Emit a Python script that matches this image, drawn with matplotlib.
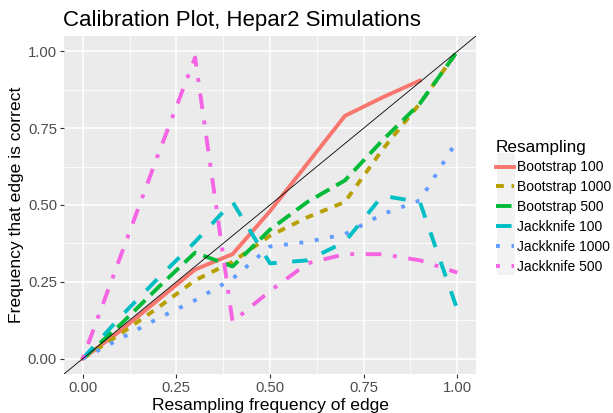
import matplotlib
matplotlib.use("Agg")
import matplotlib.pyplot as plt
from matplotlib.patches import Rectangle
import numpy as np

plt.rcParams['font.family'] = ['Liberation Sans', 'DejaVu Sans']

# values
freq = [0.0, 0.1, 0.2, 0.3, 0.4, 0.5, 0.6, 0.7, 0.8, 0.9, 1.0]
boot100 = [0.0, 0.09, 0.19, 0.29, 0.34, 0.48, 0.635, 0.79, 0.85, 0.905]
boot1000 = [0.0, 0.08, 0.165, 0.255, 0.315, 0.40, 0.46, 0.51, 0.68, 0.83, 1.0]
boot500 = [0.0, 0.11, 0.23, 0.345, 0.30, 0.42, 0.51, 0.58, 0.71, 0.83, 1.0]
jack100 = [0.0, 0.135, 0.26, 0.38, 0.51, 0.31, 0.32, 0.38, 0.53, 0.51, 0.16]
jack1000 = [0.0, 0.065, 0.13, 0.19, 0.26, 0.365, 0.38, 0.405, 0.47, 0.515, 0.71]
jack500 = [0.0, 0.33, 0.66, 0.98, 0.12, 0.22, 0.31, 0.34, 0.34, 0.32, 0.28]

labels = ["Bootstrap 100", "Bootstrap 1000", "Bootstrap 500",
          "Jackknife 100", "Jackknife 1000", "Jackknife 500"]
series = [boot100, boot1000, boot500, jack100, jack1000, jack500]
colors = ["#F8766D", "#B79F00", "#00BA38", "#00BFC4", "#619CFF", "#F564E3"]
styles = ["-", (0, (2, 2)), (0, (4, 2)), (0, (4, 4)), (0, (1, 3)), (0, (1, 3, 4, 3))]

W, H = 613, 413
fig = plt.figure(figsize=(W / 100, H / 100), dpi=100)
ax = fig.add_axes([64 / W, 1 - 374 / H, (476 - 64) / W, (374 - 36) / H])

ax.set_facecolor("#EBEBEB")
for s in ax.spines.values():
    s.set_visible(False)
ticks = [0, 0.25, 0.5, 0.75, 1.0]
minor = [0.125, 0.375, 0.625, 0.875]
ax.set_xticks(ticks)
ax.set_yticks(ticks)
ax.set_xticks(minor, minor=True)
ax.set_yticks(minor, minor=True)
ax.set_xticklabels(["0.00", "0.25", "0.50", "0.75", "1.00"])
ax.set_yticklabels(["0.00", "0.25", "0.50", "0.75", "1.00"])
ax.grid(True, which="major", color="white", lw=1.1)
ax.grid(True, which="minor", color="white", lw=0.55)
ax.set_axisbelow(True)
ax.tick_params(which="major", length=3, width=0.8, color="#333333",
               labelsize=10.7, labelcolor="#4D4D4D", pad=2)
ax.tick_params(which="minor", length=0)

handles = []
for ys, lab, c, ls in zip(series, labels, colors, styles):
    h, = ax.plot(freq[:len(ys)], ys, color=c, lw=2.8, linestyle=ls, label=lab)
    handles.append(h)

ax.plot([-1, 2], [-1, 2], color="black", lw=0.6, zorder=5)
ax.set_xlim(-0.05, 1.05)
ax.set_ylim(-0.05, 1.05)

fig.text(63 / W, 1 - 26 / H, "Calibration Plot, Hepar2 Simulations",
         fontsize=16, va="baseline", ha="left")
fig.text(270 / W, 1 - 410 / H, "Resampling frequency of edge",
         fontsize=12.6, va="baseline", ha="center")
fig.text(17 / W, 1 - 205 / H, "Frequency that edge is correct",
         fontsize=12.6, va="center", ha="center", rotation=90)

fig.patches.append(Rectangle((497 / W, 1 - 275 / H), 18 / W, 122 / H,
                             transform=fig.transFigure, facecolor="#F2F2F2",
                             edgecolor="none", zorder=0))
leg = fig.legend(handles=handles, labels=labels, loc="upper left",
                 bbox_to_anchor=(490 / W, 1 - 134 / H), frameon=False,
                 title="Resampling", title_fontsize=12.3, fontsize=10,
                 handlelength=1.3, handletextpad=0.25, labelspacing=0.42,
                 alignment="left", borderaxespad=0)

fig.savefig("out.png", dpi=100)
